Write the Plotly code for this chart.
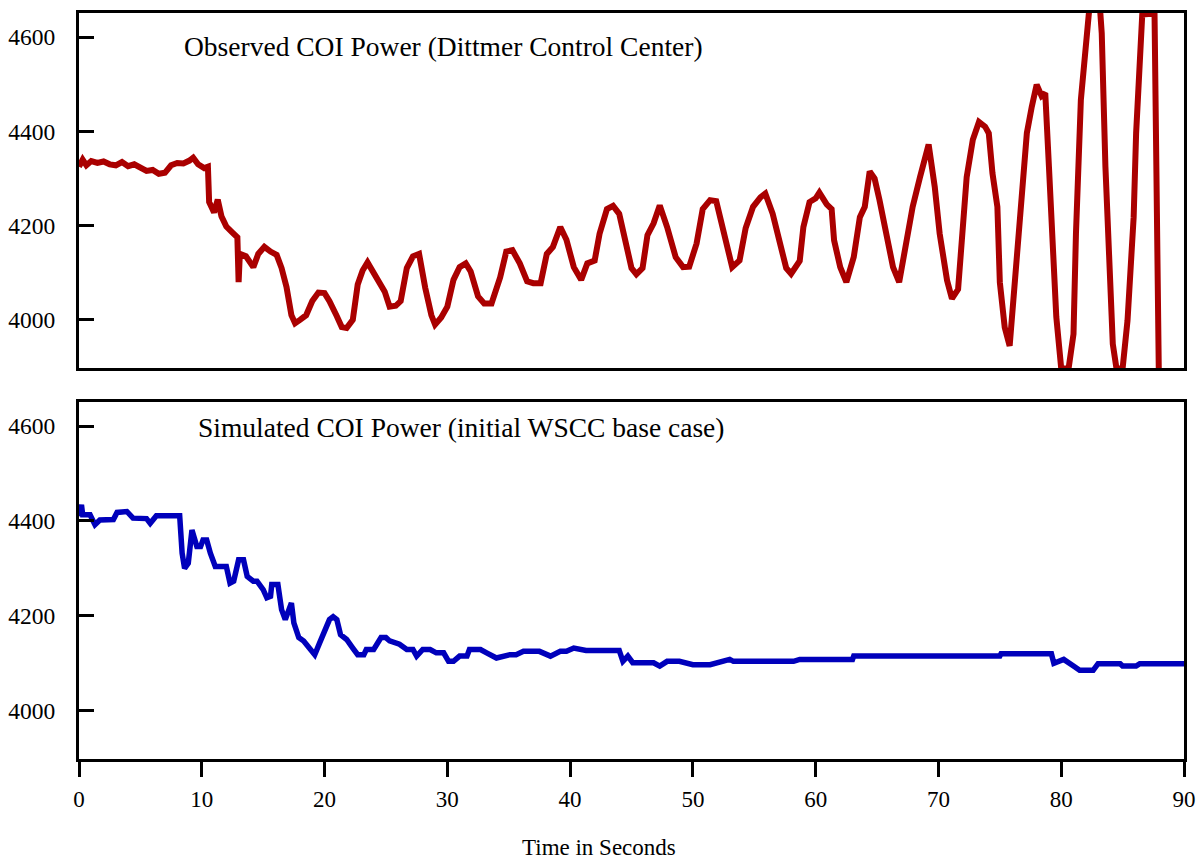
import plotly.graph_objects as go

# Observed COI power (top panel)
t_obs = [0.0, 0.3, 0.6, 1.0, 1.5, 2.0, 2.5, 3.0, 3.5, 4.0, 4.5, 5.0, 5.5, 6.0, 6.5, 7.0, 7.5, 8.0, 8.5, 9.0,
         9.3, 9.7, 10.2, 10.5, 10.6, 11.0, 11.3, 11.6, 12.0, 12.5, 12.9, 13.0, 13.1, 13.6, 14.2, 14.6, 15.1,
         15.6, 16.1, 16.5, 16.9, 17.3, 17.6, 18.0, 18.5, 19.0, 19.5, 20.0, 20.4, 21.0, 21.4, 21.8, 22.3, 22.7,
         23.1, 23.5, 24.0, 24.5, 24.9, 25.3, 25.8, 26.2, 26.7, 27.2, 27.7, 28.2, 28.7, 29.0, 29.5, 30.0, 30.5,
         31.0, 31.5, 31.9, 32.5, 33.0, 33.6, 34.3, 34.8, 35.3, 35.9, 36.5, 37.0, 37.6, 38.1, 38.6, 39.2, 39.7,
         40.3, 40.9, 41.4, 42.0, 42.4, 43.0, 43.5, 44.0, 44.5, 45.0, 45.4, 45.9, 46.3, 46.8, 47.3, 47.9, 48.6,
         49.2, 49.7, 50.3, 50.8, 51.4, 51.9, 52.5, 53.2, 53.8, 54.3, 54.9, 55.5, 55.9, 56.5, 57.1, 57.6, 58.0,
         58.7, 59.0, 59.5, 60.0, 60.3, 60.9, 61.3, 61.5, 62.0, 62.5, 63.1, 63.6, 64.0, 64.4, 64.8, 65.2, 65.8,
         66.3, 66.8, 67.4, 67.9, 68.5, 68.9, 69.2, 69.7, 70.1, 70.7, 71.1, 71.6, 72.0, 72.3, 72.8, 73.3, 73.8,
         74.1, 74.4, 74.8, 75.0, 75.4, 75.8, 76.1, 76.6, 77.2, 77.6, 78.0, 78.4, 78.7, 79.0, 79.3, 79.6, 80.0,
         80.6, 81.0, 81.2, 81.6, 82.1, 82.5, 83.0, 83.3, 83.6, 84.0, 84.2, 84.5, 85.0, 85.4, 85.9, 86.1, 86.4,
         86.6, 87.6, 87.95]
p_obs = [4325, 4340, 4328, 4337, 4333, 4336, 4330, 4328, 4335, 4326, 4330, 4324, 4316, 4318, 4310, 4312, 4328,
         4333, 4332, 4338, 4344, 4330, 4322, 4325, 4250, 4228, 4255, 4220, 4198, 4185, 4175, 4080, 4140, 4135,
         4112, 4140, 4155, 4145, 4138, 4110, 4070, 4010, 3993, 4000, 4010, 4040, 4058, 4057, 4040, 4008, 3985,
         3983, 4000, 4075, 4105, 4122, 4100, 4075, 4060, 4028, 4030, 4040, 4110, 4135, 4140, 4068, 4010, 3990,
         4005, 4028, 4085, 4112, 4120, 4103, 4050, 4035, 4035, 4090, 4145, 4148, 4120, 4082, 4078, 4078, 4140,
         4155, 4197, 4170, 4112, 4085, 4120, 4126, 4183, 4235, 4242, 4225, 4170, 4110, 4097, 4110, 4180, 4205,
         4243, 4197, 4133, 4112, 4113, 4162, 4235, 4254, 4252, 4185, 4112, 4126, 4195, 4240, 4260, 4268, 4225,
         4162, 4110, 4098, 4125, 4197, 4250, 4258, 4270, 4245, 4235, 4169, 4112, 4080, 4133, 4218, 4240, 4315,
         4300, 4254, 4183, 4112, 4080, 4169, 4240, 4303, 4340, 4372, 4282, 4183, 4084, 4045, 4065, 4197, 4303,
         4382, 4420, 4410, 4396, 4311, 4240, 4080, 3984, 3945, 4041, 4197, 4396, 4452, 4499, 4475, 4481, 4325,
         4126, 4006, 3897, 3897, 3970, 4183, 4467, 4608, 4720, 4720, 4608, 4325, 4112, 3949, 3897, 3897, 3999,
         4218, 4396, 4594, 4648, 4650, 3885]

# Simulated COI power (bottom panel)
t_sim = [0.0, 0.2, 0.3, 0.9, 1.3, 1.7, 2.8, 3.1, 3.9, 4.4, 5.5, 5.8, 6.3, 8.2, 8.4, 8.6, 8.9, 9.2, 9.6, 9.9,
         10.1, 10.4, 10.7, 11.1, 12.0, 12.3, 12.6, 13.0, 13.4, 13.7, 14.2, 14.5, 15.0, 15.3, 15.6, 15.7, 16.2,
         16.5, 16.8, 17.2, 17.3, 17.5, 17.9, 18.3, 18.7, 19.2, 19.6, 20.0, 20.4, 20.7, 21.0, 21.3, 21.8, 22.3,
         22.7, 23.2, 23.4, 24.0, 24.2, 24.6, 25.0, 25.3, 26.1, 26.7, 27.2, 27.5, 28.0, 28.6, 29.1, 29.7, 30.1,
         30.5, 31.0, 31.6, 31.8, 32.7, 33.2, 34.0, 35.1, 35.6, 36.2, 37.5, 38.4, 39.2, 39.7, 40.3, 41.3, 44.0,
         44.3, 44.7, 45.1, 46.8, 47.3, 47.9, 48.9, 50.0, 51.4, 53.0, 53.3, 58.2, 58.7, 63.0, 63.1, 75.0, 75.1,
         79.2, 79.4, 80.2, 81.0, 81.5, 82.6, 83.0, 84.8, 85.0, 86.1, 86.4, 90.0]
p_sim = [4410, 4434, 4413, 4413, 4392, 4402, 4403, 4418, 4420, 4406, 4405, 4395, 4411, 4411, 4332, 4300, 4311,
         4381, 4346, 4346, 4360, 4360, 4332, 4304, 4304, 4269, 4273, 4318, 4318, 4283, 4273, 4273, 4255, 4238,
         4241, 4266, 4266, 4213, 4192, 4227, 4227, 4185, 4154, 4147, 4132, 4118, 4143, 4171, 4192, 4198, 4192,
         4160, 4150, 4132, 4118, 4118, 4129, 4129, 4136, 4154, 4154, 4147, 4140, 4129, 4129, 4115, 4129, 4129,
         4122, 4122, 4104, 4104, 4115, 4115, 4129, 4129, 4122, 4111, 4118, 4118, 4125, 4125, 4115, 4125, 4125,
         4132, 4127, 4127, 4104, 4115, 4101, 4101, 4094, 4104, 4104, 4097, 4097, 4108, 4104, 4104, 4108, 4108,
         4115, 4115, 4120, 4120, 4100, 4108, 4094, 4085, 4085, 4099, 4099, 4094, 4094, 4099, 4099]

x_ticks = [0, 10, 20, 30, 40, 50, 60, 70, 80, 90]
y_ticks = [4000, 4200, 4400, 4600]
top_label = "Observed COI Power (Dittmer Control Center)"
bottom_label = "Simulated COI Power (initial WSCC base case)"
x_title = "Time in Seconds"

FONT = "Liberation Serif, Times New Roman, serif"
Y_RANGE = [3898, 4651]

fig = go.Figure()
fig.add_trace(go.Scatter(x=t_obs, y=p_obs, mode="lines", xaxis="x2", yaxis="y2",
                         line=dict(color="#AA0000", width=6), showlegend=False))
fig.add_trace(go.Scatter(x=t_sim, y=p_sim, mode="lines", xaxis="x", yaxis="y",
                         line=dict(color="#0000BB", width=5.5), showlegend=False))

common_y = dict(range=Y_RANGE, tickvals=y_ticks, ticks="inside", ticklen=15, tickwidth=3,
                tickcolor="black", showline=True, linecolor="black", linewidth=3, mirror=True,
                showgrid=False, zeroline=False, ticklabelstandoff=16, automargin=False,
                tickfont=dict(family=FONT, size=23.5, color="black"))

fig.update_layout(
    width=1199, height=859,
    margin=dict(l=79, r=15, t=13, b=100),
    paper_bgcolor="white", plot_bgcolor="white",
    font=dict(family=FONT, color="black"),
    xaxis=dict(domain=[0, 1], anchor="y", range=[0, 90], tickvals=x_ticks, ticks="outside",
               ticklen=15, tickwidth=3, tickcolor="black", showline=True, linecolor="black",
               linewidth=3, mirror=True, showgrid=False, zeroline=False, ticklabelstandoff=2,
               automargin=False,
               tickfont=dict(family=FONT, size=23, color="black")),
    yaxis=dict(domain=[0, 0.4786], anchor="x", **common_y),
    xaxis2=dict(domain=[0, 1], anchor="y2", range=[0, 90], showticklabels=False, ticks="",
                showline=True, linecolor="black", linewidth=3, mirror=True, showgrid=False,
                zeroline=False, automargin=False),
    yaxis2=dict(domain=[0.5241, 1], anchor="x2", **common_y),
    annotations=[
        dict(text=top_label, xref="x2", yref="y2", x=8.4, y=4579, xanchor="left", yanchor="middle",
             showarrow=False, font=dict(family=FONT, size=27.5, color="black")),
        dict(text=bottom_label, xref="x", yref="y", x=9.5, y=4598, xanchor="left", yanchor="middle",
             showarrow=False, font=dict(family=FONT, size=27.5, color="black")),
        dict(text=x_title, xref="paper", yref="paper", x=0.4706, y=-0.118, xanchor="center",
             yanchor="middle", showarrow=False, font=dict(family=FONT, size=23, color="black")),
    ],
)

fig.write_html("out.html", config={"displayModeBar": False},
               post_script="document.body.style.margin='0px';document.body.style.overflow='hidden';")
